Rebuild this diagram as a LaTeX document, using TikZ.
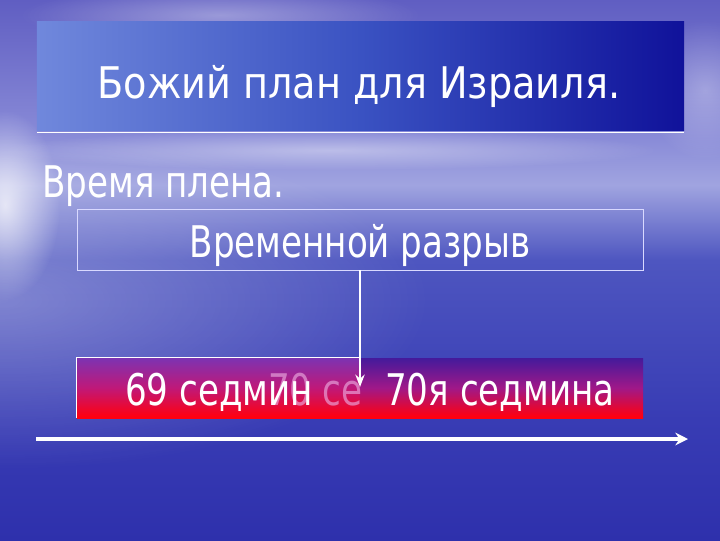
\documentclass[tikz,border=0pt]{standalone}
\usepackage{fontspec}
\setmainfont{DejaVu Sans Condensed}
\newfontfamily\titlefont[FakeStretch=0.975]{DejaVu Sans Condensed}
\newfontfamily\bodyfont[FakeStretch=0.87]{DejaVu Sans Condensed}
\usetikzlibrary{arrows.meta,fadings,positioning}

\definecolor{skytop}{HTML}{605EC2}
\definecolor{skymid}{HTML}{8A8CD8}
\definecolor{haze}{HTML}{A0A4E0}
\definecolor{seatop}{HTML}{4E56C0}
\definecolor{seamid}{HTML}{383CB4}
\definecolor{seabot}{HTML}{2E30AC}
\definecolor{navy}{HTML}{10129A}
\definecolor{titleleft}{HTML}{7088DC}
\definecolor{titlemid}{HTML}{3A52C2}
\definecolor{ghost}{HTML}{EAA8DE}
\definecolor{barred}{HTML}{FF0010}
\definecolor{barorange}{HTML}{FF3A10}
\definecolor{barplum}{HTML}{C01878}
\definecolor{barviolet}{HTML}{7A34B4}
\definecolor{barblue}{HTML}{5450C0}
\definecolor{barplumdark}{HTML}{A01888}
\definecolor{barindigo}{HTML}{401A9C}

\pgfdeclareverticalshading{bar69}{100bp}{color(0bp)=(barorange); color(4bp)=(barred); color(26bp)=(barred); color(50bp)=(barplum); color(76bp)=(barviolet); color(100bp)=(barblue)}
\pgfdeclareverticalshading{bar70}{100bp}{color(0bp)=(barorange); color(4bp)=(barred); color(26bp)=(barred); color(50bp)=(barplumdark); color(76bp)=(barindigo); color(100bp)=(navy)}
\tikzfading[name=glowfade, inner color=transparent!0, outer color=transparent!100]

\begin{document}
\begin{tikzpicture}[x=0.025cm,y=-0.025cm,>=Stealth]
  \tikzstyle{txt}=[text=white,inner sep=0pt,font=\bodyfont\fontsize{31}{36}\selectfont]
  \tikzstyle{barbox}=[rectangle,inner sep=0pt,minimum width=7.075cm,minimum height=1.5cm]
  \useasboundingbox (0,0) rectangle (720,540);
  % sky, horizon and sea
  \shade[top color=skytop,bottom color=skymid] (0,0) rectangle (720,140);
  \shade[top color=skymid,bottom color=haze] (0,140) rectangle (720,185);
  \shade[top color=haze,bottom color=seatop] (0,185) rectangle (720,260);
  \shade[top color=seatop,bottom color=seamid] (0,260) rectangle (720,420);
  \shade[top color=seamid,bottom color=seabot] (0,420) rectangle (720,540);
  % clouds and glare
  \fill[white,opacity=0.3,path fading=glowfade] (0,300) ellipse (430 and 170);
  \fill[white,opacity=0.35,path fading=glowfade] (220,15) ellipse (200 and 30);
  \fill[white,opacity=0.3,path fading=glowfade] (705,90) ellipse (60 and 70);
  \fill[white,opacity=0.4,path fading=glowfade] (330,150) ellipse (330 and 20);
  \fill[white,opacity=0.75,path fading=glowfade] (5,205) ellipse (55 and 95);
  % title bar
  \node[rectangle,inner sep=0pt,minimum width=16.175cm,minimum height=2.7cm,
        left color=titleleft,right color=navy,middle color=titlemid] (titlebar) at (360.5,76) {};
  \node[txt,anchor=base,font=\titlefont\fontsize{31}{36}\selectfont] (title) at (359,98) {Божий план для Израиля.};
  \draw[white,line width=0.8pt] (titlebar.south west) ++(0,2) -- ([yshift=-2*0.025cm]titlebar.south east);
  \node[txt,anchor=base west] (exile) at (42,197) {Время плена.};
  % gap box
  \node[rectangle,draw=white!85!blue,line width=0.6pt,inner sep=0pt,
        minimum width=14.15cm,minimum height=1.525cm] (gap) at (360,239.5) {};
  \node[txt,anchor=base] (gaptext) at (360,257) {Временной разрыв};
  % weeks bar
  \node[barbox,shading=bar69] (weeks69) at (218.5,388) {};
  \node[barbox,shading=bar70] (week70) at (501.5,388) {};
  \draw[white,line width=0.6pt] (weeks69.north east) -- (weeks69.north west) -- (weeks69.south west);
  \node[txt,anchor=base west,text=ghost,opacity=0.65] (ghost70) at (268,405) {70 се};
  \node[txt,anchor=base west] (text69) at (125,405) {69 седмин};
  \node[txt,anchor=base west] (text70) at (385,405) {70я седмина};
  \coordinate (tip) at (360,387);
  \draw[->,white,line width=1.3pt] (gap.south) -- (tip);
  % timeline
  \coordinate (tstart) at (36,439);
  \coordinate (tend) at (688,439);
  \draw[white,line width=2.8pt,-{Stealth[length=9pt,width=9pt]}] (tstart) -- (tend);
\end{tikzpicture}
\end{document}
